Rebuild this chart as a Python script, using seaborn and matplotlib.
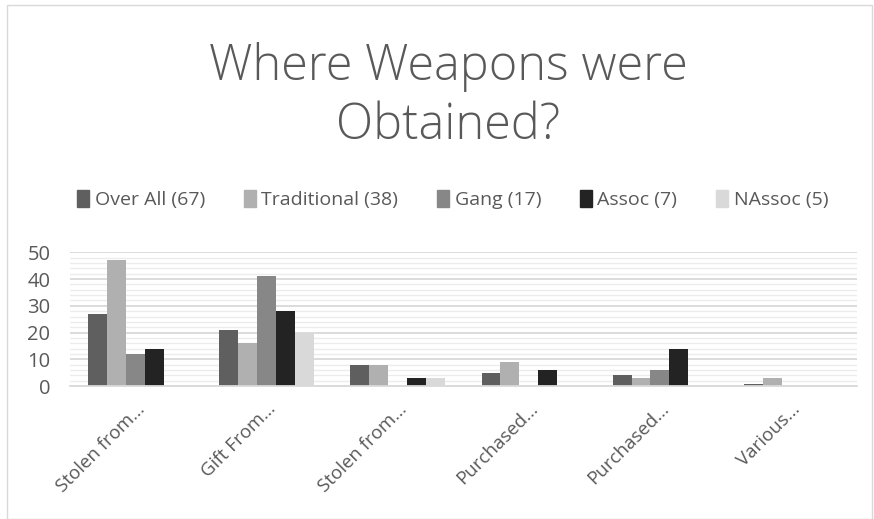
import matplotlib
matplotlib.use("Agg")
import matplotlib.pyplot as plt
from matplotlib.patches import Rectangle
from matplotlib.ticker import MultipleLocator
import pandas as pd
import seaborn as sns

# Datos
categories = ["Stolen from...", "Gift From...", "Stolen from...", "Purchased...",
              "Purchased...", "Various..."]
series_names = ["Over All (67)", "Traditional (38)", "Gang (17)", "Assoc (7)", "NAssoc (5)"]
over_all = [27, 21, 8, 5, 4, 0.8]
traditional = [47, 16, 8, 9, 3, 3]
gang = [12, 41, 0, 0, 6, 0]
assoc = [14, 28, 3, 6, 14, 0]
nassoc = [0, 20, 3, 0, 0, 0]
colors = ["#5f5f5f", "#b0b0b0", "#878787", "#232323", "#d9d9d9"]

values = [over_all, traditional, gang, assoc, nassoc]
rows = []
for name, vals in zip(series_names, values):
    for i, v in enumerate(vals):
        rows.append({"cat": i, "series": name, "value": v})
df = pd.DataFrame(rows)

sns.set_theme(style="white")
plt.rcParams["font.family"] = ["Open Sans", "DejaVu Sans"]

fig = plt.figure(figsize=(8.74, 5.19), dpi=100)
ax = fig.add_axes([0.08, 0.256, 0.90, 0.258])

sns.barplot(data=df, x="cat", y="value", hue="series", hue_order=series_names,
            palette=colors, width=0.72, gap=0, ax=ax, legend=False,
            saturation=1, linewidth=0)

ax.set_ylim(0, 50)
ax.set_xlim(-0.5, len(categories) - 0.5)
ax.yaxis.set_major_locator(MultipleLocator(10))
ax.yaxis.set_minor_locator(MultipleLocator(2))
ax.grid(axis="y", which="major", color="#d9d9d9", linewidth=1.3)
ax.grid(axis="y", which="minor", color="#ececec", linewidth=1.0)
ax.set_axisbelow(True)
for s in ["top", "right", "left"]:
    ax.spines[s].set_visible(False)
ax.spines["bottom"].set_color("#d9d9d9")
ax.spines["bottom"].set_linewidth(1.3)

ax.set_xticks(range(len(categories)))
ax.set_xticklabels(categories, rotation=45, ha="right", rotation_mode="anchor",
                   fontsize=13.5, color="#595959")
ax.tick_params(axis="y", labelsize=14.5, labelcolor="#595959", length=0, pad=14)
ax.tick_params(axis="x", length=0, pad=10)
ax.set_xlabel("")
ax.set_ylabel("")

# Leyenda
handles = [Rectangle((0, 0), 1, 1, color=c) for c in colors]
fig.legend(handles, series_names, loc="center", bbox_to_anchor=(0.518, 0.615),
           ncol=5, frameon=False, fontsize=14, labelcolor="#595959",
           handlelength=0.6, handleheight=0.9, handletextpad=0.3, columnspacing=2.0)

fig.text(0.513, 0.814, "Where Weapons were\nObtained?", ha="center", va="center",
         fontsize=35, color="#595959", fontweight="light", linespacing=1.25)

fig.patches.append(Rectangle((0.008, 0.0), 0.99, 0.99, transform=fig.transFigure,
                             fill=False, edgecolor="#d9d9d9", linewidth=1))

fig.savefig("out.png", dpi=100)
